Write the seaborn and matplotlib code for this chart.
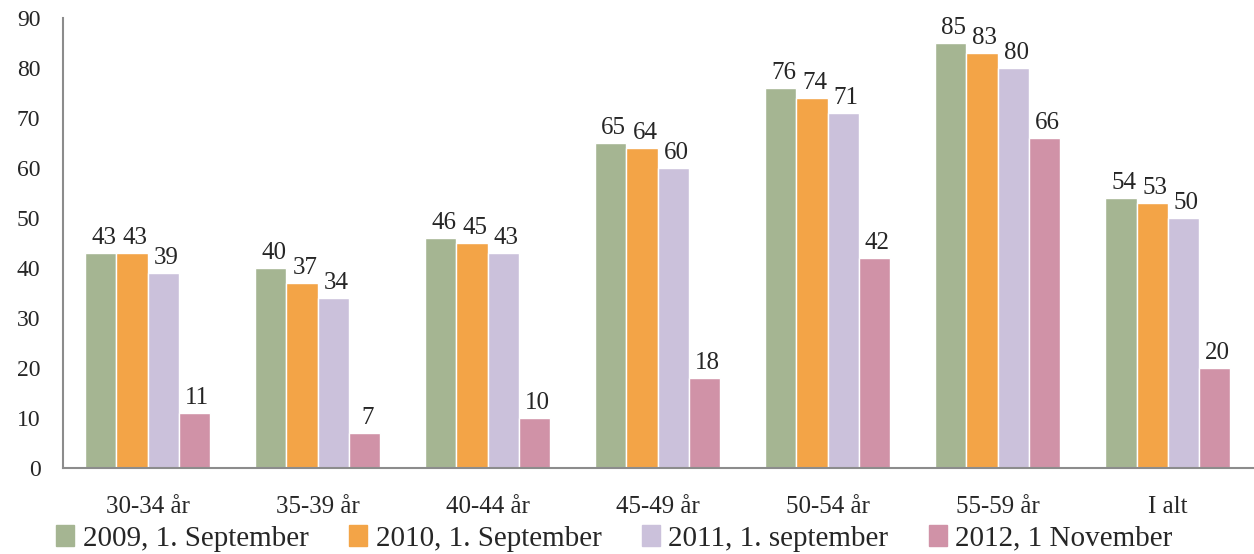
import numpy as np
import pandas as pd
import matplotlib
matplotlib.use("Agg")
import matplotlib.pyplot as plt
import seaborn as sns

# values
categories = ['30-34 år', '35-39 år', '40-44 år', '45-49 år', '50-54 år', '55-59 år', 'I alt']
series = ['2009, 1. September', '2010, 1. September', '2011, 1. september', '2012, 1 November']
v2009 = [43, 40, 46, 65, 76, 85, 54]
v2010 = [43, 37, 45, 64, 74, 83, 53]
v2011 = [39, 34, 43, 60, 71, 80, 50]
v2012 = [11, 7, 10, 18, 42, 66, 20]
colors = ['#A5B592', '#F3A447', '#CBC1DB', '#D092A7']
yticks = [0, 10, 20, 30, 40, 50, 60, 70, 80, 90]

rows = []
for name, vals in zip(series, [v2009, v2010, v2011, v2012]):
    for c, v in zip(categories, vals):
        rows.append({'kategori': c, 'serie': name, 'pct': v})
df = pd.DataFrame(rows)

sns.set_style('white')
plt.rcParams['font.family'] = ['Liberation Serif', 'DejaVu Serif']

fig = plt.figure(figsize=(12.54, 5.54), dpi=100)
ax = fig.add_axes([0.050, 0.155, 0.949, 0.8125])

sns.barplot(data=df, x='kategori', y='pct', hue='serie', palette=colors,
            width=0.735, saturation=1, ax=ax, legend=False)

for container in ax.containers:
    for bar in container:
        h = bar.get_height()
        ax.annotate(f'{h:.0f}', (bar.get_x() + bar.get_width() / 2, h),
                    xytext=(2, 3), textcoords='offset points',
                    ha='center', va='bottom', fontsize=18)

ax.set_xlim(-0.5, len(categories) - 0.5)
ax.set_ylim(0, 90)
ax.set_yticks(yticks)
ax.set_xlabel('')
ax.set_ylabel('')
ax.tick_params(axis='y', labelsize=17, length=0, pad=16)
ax.tick_params(axis='x', labelsize=18, length=0, pad=20)
for lab in ax.get_yticklabels():
    lab.set_horizontalalignment('right')

for s in ['top', 'right']:
    ax.spines[s].set_visible(False)
for s in ['left', 'bottom']:
    ax.spines[s].set_color('#8C8C8C')
    ax.spines[s].set_linewidth(1.5)

handles = [plt.Rectangle((0, 0), 1, 1, color=c) for c in colors]
fig.legend(handles, series, loc='center left', bbox_to_anchor=(0.045, 0.028),
           ncol=4, frameon=False, fontsize=21, handlelength=0.6,
           handleheight=0.7, handletextpad=0.3, columnspacing=1.4,
           borderaxespad=0, borderpad=0)

fig.savefig('out.png', dpi=100)
